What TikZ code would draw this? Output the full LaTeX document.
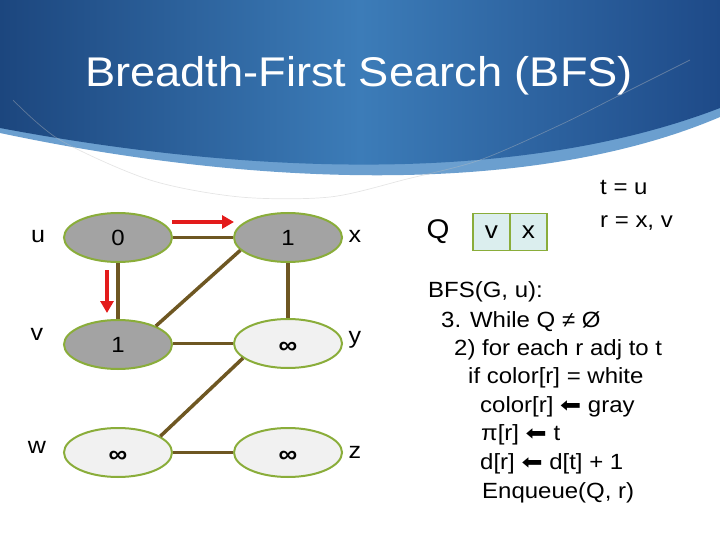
\documentclass[tikz,border=0pt]{standalone}
\usepackage{fontspec}
\setmainfont[FakeStretch=1.09]{Liberation Sans}
\newfontfamily\symfont[FakeStretch=1.2]{DejaVu Sans}
\usetikzlibrary{shapes.geometric,arrows.meta}
\definecolor{edgebrown}{HTML}{6E5722}
\definecolor{nodegreen}{HTML}{8AAD3A}
\definecolor{grayfill}{HTML}{A3A3A3}
\definecolor{whitefill}{HTML}{F1F1F1}
\definecolor{qfill}{HTML}{DBEEEE}
\definecolor{arrowred}{HTML}{E31B1B}
\definecolor{bluedark}{HTML}{1C467E}
\definecolor{bluemid}{HTML}{3C7CB8}
\definecolor{blueright}{HTML}{1E4A88}
\definecolor{blueband}{HTML}{6B9FCF}
\newcommand{\larr}{{\symfont\fontsize{21}{21}\selectfont ⬅}}
\newcommand{\infsym}{\raisebox{-10pt}[0pt][0pt]{∞}}
\begin{document}
\begin{tikzpicture}[x=1pt,y=-1pt,
  vert/.style={ellipse, draw=nodegreen, line width=2pt, minimum width=108pt, minimum height=49pt, inner sep=0pt, font=\fontsize{22}{22}\selectfont},
  grayv/.style={vert, fill=grayfill},
  whitev/.style={vert, fill=whitefill, font=\fontsize{24}{24}\selectfont\bfseries},
  lbl/.style={anchor=base, inner sep=0pt, font=\fontsize{23}{23}\selectfont},
  edge/.style={draw=edgebrown, line width=3.5pt},
  redarr/.style={draw=arrowred, line width=3.5pt, -{Triangle[length=12pt,width=13pt]}},
  qbox/.style={draw=nodegreen, fill=qfill, line width=1.8pt, minimum width=37pt, minimum height=37pt, inner sep=0pt, font=\fontsize{24}{24}\selectfont},
  code/.style={anchor=base west, inner sep=0pt, font=\fontsize{22}{22}\selectfont}
]
\useasboundingbox (0,0) rectangle (720,540);
% background swoosh
\fill[blueband] (0,0) -- (720,0) -- (720,117) .. controls (530,198) and (250,186) .. (0,133) -- cycle;
\shade[left color=bluedark, right color=blueright, middle color=bluemid]
  (0,0) -- (720,0) -- (720,108) .. controls (520,185) and (250,175) .. (0,128) -- cycle;
\draw[gray!50, line width=0.7pt, opacity=0.4] plot[smooth] coordinates
  {(13,100) (60,140) (150,180) (240,197) (330,197) (407,179) (480,160) (560,125) (620,95) (690,60)};
% title
\node[anchor=base, text=white, inner sep=0pt, font=\fontsize{41.5}{41.5}\selectfont] (title) at (359,87) {Breadth-First Search (BFS)};
% graph nodes
\node[grayv] (u) at (118,237.5) {0};
\node[grayv] (x) at (288,237.5) {1};
\node[grayv] (v) at (118,344.5) {1};
\node[whitev] (y) at (288,343.5) {\infsym};
\node[whitev] (w) at (118,452.5) {\infsym};
\node[whitev] (z) at (288,452.5) {\infsym};
% edges
\draw[edge] (u) -- (x);
\draw[edge] (u) -- (v);
\draw[edge] (x) -- (y);
\draw[edge] (v.east |- y.west) -- (y.west);
\draw[edge] (w) -- (z);
\draw[edge] (v.26) -- (x.195);
\draw[edge] (y.198) -- (w.21);
% labels
\node[lbl] (lu) at (38,242) {u};
\node[lbl] (lv) at (37,340) {v};
\node[lbl] (lw) at (37,453) {w};
\node[lbl] (lx) at (355,243) {x};
\node[lbl] (ly) at (355,343) {y};
\node[lbl] (lz) at (355,458) {z};
% red arrows
\coordinate (ra1) at (172,222);
\coordinate (ra2) at (234,222);
\coordinate (rb1) at (107,270);
\coordinate (rb2) at (107,313);
\draw[redarr] (ra1) -- (ra2);
\draw[redarr] (rb1) -- (rb2);
% queue
\node[inner sep=0pt, font=\fontsize{27}{27}\selectfont] (Q) at (438,232) {Q};
\node[qbox] (q1) at (491.5,232) {\raisebox{-2pt}{v}};
\node[qbox] (q2) at (528.5,232) {\raisebox{-2pt}{x}};
% t, r
\node[code] (t) at (600,195) {t = u};
\node[code] (r) at (600,228) {r = x, v};
% code
\node[code] (c1) at (428,297) {BFS(G, u):};
\node[code] (c2) at (441,327) {3. While Q ≠ Ø};
\node[code] (c3) at (454,355) {2) for each r adj to t};
\node[code] (c4) at (468,383) {if color[r] = white};
\node[code] (c5) at (480,412) {color[r] \larr\ gray};
\node[code] (c6) at (481,440) {π[r] \larr\ t};
\node[code] (c7) at (480,469) {d[r] \larr\ d[t] + 1};
\node[code] (c8) at (482,498) {Enqueue(Q, r)};
\end{tikzpicture}
\end{document}
